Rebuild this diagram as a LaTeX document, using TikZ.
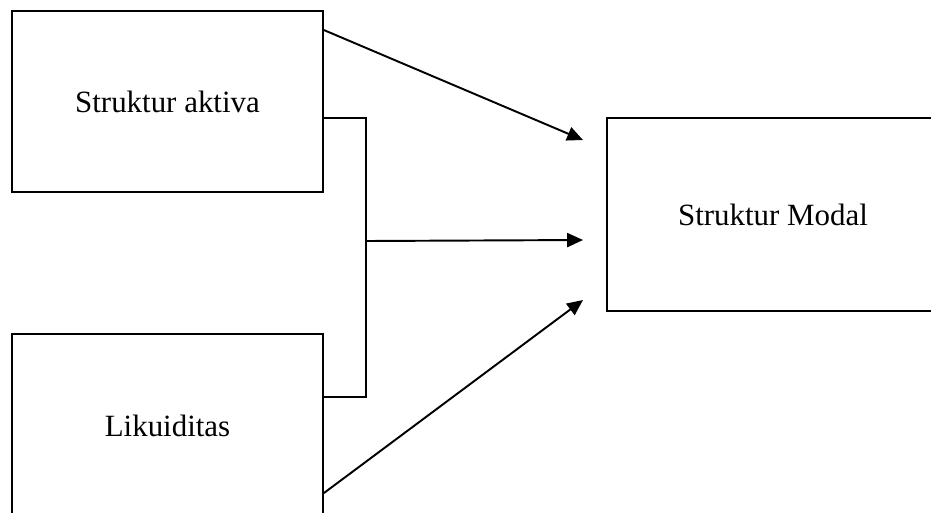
\documentclass[tikz,border=0pt]{standalone}
\usepackage{fontspec}
\setmainfont{Liberation Serif}
\usetikzlibrary{arrows.meta,positioning}

\begin{document}
\begin{tikzpicture}[x=0.02cm, y=-0.02cm, font=\fontsize{17.6}{21}\selectfont,
  box/.style={draw, line width=1.1pt, align=center, inner sep=0pt},
  link/.style={line width=1.1pt},
  flow/.style={line width=1.1pt, -{Triangle[length=9pt, width=8pt]}}]
\useasboundingbox (0,0) rectangle (931,512);
\clip (0,0) rectangle (931,512);
\node[box, minimum width=6.22cm, minimum height=3.62cm] (aktiva) at (167.5,101.5) {Struktur aktiva};
\node[box, minimum width=6.22cm, minimum height=3.68cm] (likuid) at (167.5,426) {Likuiditas};
\node[box, minimum width=6.64cm, minimum height=3.86cm] (modal) at (773,214.5) {Struktur Modal};
\coordinate (bend) at (366,397);
\coordinate (join) at (366,241);
\coordinate (tiptop) at (583,140);
\coordinate (tipmid) at (583,240);
\coordinate (tipbot) at (583,300);
\draw[link] ([yshift=-0.33cm]aktiva.east) -| (bend) -- (likuid.east |- bend);
\draw[flow] ([yshift=-0.4cm]aktiva.north east) -- (tiptop);
\draw[flow] (join) -- (tipmid);
\draw[flow] ([yshift=-3.2cm]likuid.north east) -- (tipbot);
\end{tikzpicture}
\end{document}
